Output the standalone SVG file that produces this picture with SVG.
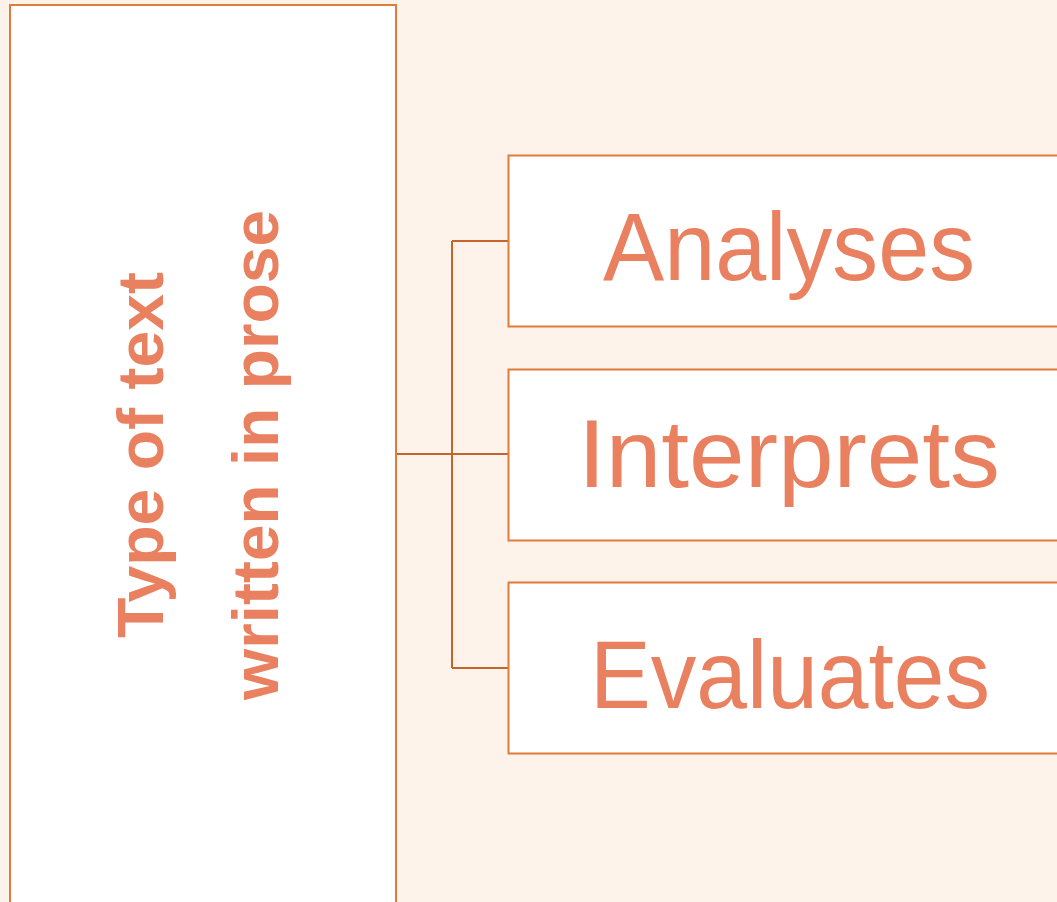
<svg xmlns="http://www.w3.org/2000/svg" width="1057" height="902" viewBox="0 0 1057 902">
<style>
.box{fill:#ffffff;stroke:#e07b39;stroke-width:2}
.conn{fill:none;stroke:#c3652d;stroke-width:2}
.lbl{font-family:"Liberation Sans",Arial,sans-serif;fill:#e9805f}
.big{font-size:96px;text-anchor:middle}
.rot{font-size:65px;font-weight:bold;text-anchor:middle}
</style>
<rect x="0" y="0" width="1057" height="902" fill="#fef3ea"/>
<g id="node-root">
<rect class="box" x="10" y="5" width="386" height="910"/>
<text class="lbl rot" transform="translate(163,455) rotate(-90)" x="0" y="0" textLength="366" lengthAdjust="spacingAndGlyphs">Type of text</text>
<text class="lbl rot" transform="translate(278,455) rotate(-90)" x="0" y="0" textLength="490" lengthAdjust="spacingAndGlyphs">written in prose</text>
</g>
<g id="connectors">
<path class="conn" d="M397,454 H508 M452,241 V668 M452,241 H508 M452,668 H508"/>
</g>
<g id="node-analyses">
<rect class="box" x="508.5" y="155.5" width="600" height="171"/>
<text class="lbl big" x="789" y="280" textLength="372" lengthAdjust="spacingAndGlyphs">Analyses</text>
</g>
<g id="node-interprets">
<rect class="box" x="508.5" y="369.5" width="600" height="171"/>
<text class="lbl big" x="789" y="487" textLength="422" lengthAdjust="spacingAndGlyphs">Interprets</text>
</g>
<g id="node-evaluates">
<rect class="box" x="508.5" y="582.5" width="600" height="171"/>
<text class="lbl big" x="790" y="708" textLength="400" lengthAdjust="spacingAndGlyphs">Evaluates</text>
</g>
</svg>
